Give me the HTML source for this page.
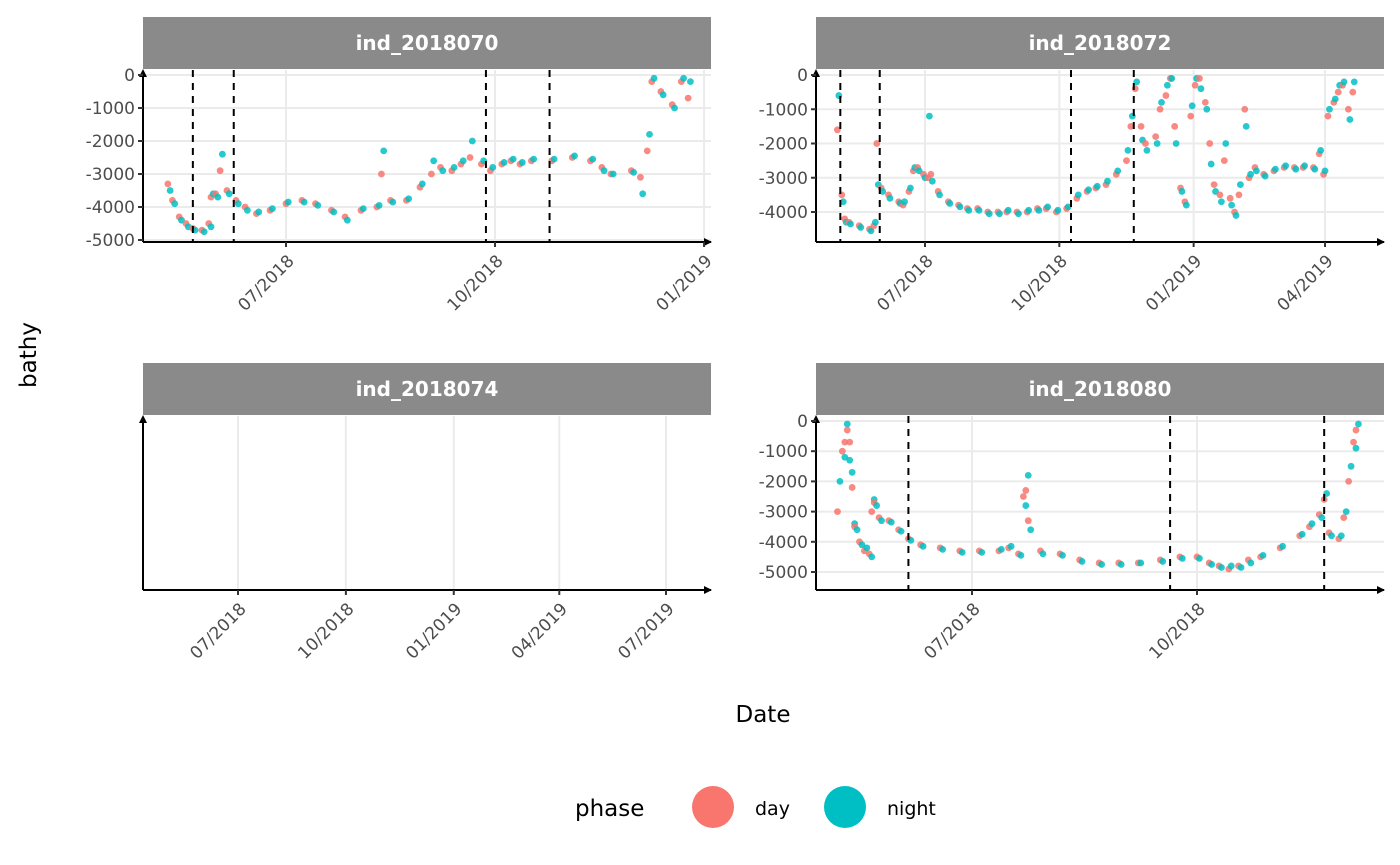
<!DOCTYPE html>
<html><head><meta charset="utf-8"><style>
body{margin:0;background:#fff}
svg{display:block;font-family:"DejaVu Sans","Liberation Sans",sans-serif}
</style></head><body>
<svg id="chart" width="1400" height="865" viewBox="0 0 1400 865">
<g id="panels"></g>
<text x="36" y="355" transform="rotate(-90 36 355)" text-anchor="middle" font-size="23" fill="#000">bathy</text>
<text x="763" y="722" text-anchor="middle" font-size="23" fill="#000">Date</text>
<g>
<text x="575" y="816" font-size="23" fill="#000">phase</text>
<circle cx="713" cy="807" r="21" fill="#F8766D"></circle>
<text x="755" y="815" font-size="19" fill="#000">day</text>
<circle cx="845" cy="807" r="21" fill="#00BFC4"></circle>
<text x="887" y="815" font-size="19" fill="#000">night</text>
</g>
</svg>
<script>
// ---- data (days offset from panel start date, bathy values) ----
const p1Days = [0,2,5,8,11,15,18,19,21,23,26,30,34,39,45,52,59,65,72,78,85,92,94,98,105,111,116,120,125,129,133,138,142,147,151,155,160,169,178,186,191,195,204,208,211,213,217,222,226,229];
const p1DayVals = [-3300,-3800,-4300,-4500,-4650,-4700,-4500,-3700,-3600,-2900,-3500,-3800,-4000,-4200,-4100,-3900,-3800,-3900,-4100,-4300,-4100,-4000,-3000,-3800,-3800,-3400,-3000,-2800,-2900,-2700,-2500,-2700,-2900,-2700,-2600,-2700,-2600,-2600,-2500,-2600,-2800,-3000,-2900,-3100,-2300,-200,-500,-900,-200,-700];
const p1NightVals = [-3500,-3900,-4400,-4600,-4700,-4750,-4600,-3600,-3700,-2400,-3600,-3900,-4100,-4150,-4050,-3850,-3850,-3950,-4150,-4400,-4050,-3950,-2300,-3850,-3750,-3300,-2600,-2900,-2800,-2600,-2000,-2600,-2800,-2650,-2550,-2650,-2550,-2550,-2450,-2550,-2900,-3000,-2950,-3600,-1800,-100,-600,-1000,-100,-200];

const p2Days = [0,3,5,8,15,22,25,27,30,35,42,45,49,52,55,59,62,64,69,76,83,89,96,103,110,116,123,130,137,143,150,157,164,171,177,184,191,198,201,204,208,211,218,221,225,228,231,235,238,242,245,248,252,255,258,262,265,269,272,275,279,282,286,292,299,306,313,319,326,330,333,336,340,343,346,350,353];
const p2DayVals = [-1600,-3500,-4200,-4300,-4400,-4500,-4400,-2000,-3300,-3500,-3700,-3800,-3400,-2800,-2700,-2900,-3000,-2900,-3400,-3700,-3800,-3900,-3900,-4000,-4000,-4000,-4000,-4000,-3900,-3900,-4000,-3900,-3600,-3400,-3300,-3200,-2900,-2500,-1500,-400,-1500,-2000,-1800,-1000,-600,-100,-1500,-3300,-3700,-1200,-300,-100,-800,-2000,-3200,-3500,-2500,-3600,-4000,-3500,-1000,-3000,-2700,-2900,-2800,-2700,-2700,-2700,-2700,-2300,-2900,-1200,-800,-500,-300,-1000,-500];
const p2NightVals = [-600,-3700,-4300,-4350,-4450,-4550,-4300,-3200,-3400,-3600,-3750,-3700,-3300,-2700,-2800,-3000,-1200,-3100,-3500,-3750,-3850,-3950,-3950,-4050,-4050,-3950,-4050,-3950,-3950,-3850,-3950,-3850,-3500,-3350,-3250,-3100,-2800,-2200,-1200,-200,-1900,-2200,-2000,-800,-300,-100,-2000,-3400,-3800,-900,-100,-400,-1000,-2600,-3400,-3700,-2000,-3800,-4100,-3200,-1500,-2900,-2800,-2950,-2750,-2650,-2750,-2650,-2750,-2200,-2800,-1000,-700,-300,-200,-1300,-200];

const p4Days = [0,2,3,4,5,6,7,9,11,13,14,15,17,21,25,29,34,42,50,58,66,70,74,76,77,78,83,91,99,107,115,123,132,140,147,152,156,160,164,168,173,181,189,193,197,199,201,205,207,209,211,212];
const p4DayVals = [-3000,-1000,-700,-300,-700,-2200,-3500,-4000,-4300,-4400,-3000,-2700,-3200,-3300,-3600,-3900,-4100,-4200,-4300,-4300,-4300,-4200,-4400,-2500,-2300,-3300,-4300,-4400,-4600,-4700,-4700,-4700,-4600,-4500,-4500,-4700,-4800,-4900,-4800,-4600,-4500,-4200,-3800,-3500,-3100,-2600,-3700,-3900,-3200,-2000,-700,-300];
const p4NightVals = [-2000,-1200,-100,-1300,-1700,-3400,-3600,-4100,-4200,-4500,-2600,-2800,-3300,-3350,-3650,-3950,-4150,-4250,-4350,-4350,-4250,-4150,-4450,-2800,-1800,-3600,-4400,-4450,-4650,-4750,-4750,-4700,-4650,-4550,-4550,-4750,-4850,-4800,-4850,-4700,-4450,-4150,-3750,-3400,-3200,-2400,-3800,-3800,-3000,-1500,-900,-100];

const p1VLines = [11,29,140,168];
const p2VLines = [2,29,160,203];
const p4VLines = [29,136,199];

const p1XTicks = ["2018-07-01","2018-10-01","2019-01-01"];
const p1XLabels = ["07/2018","10/2018","01/2019"];
const p2XTicks = ["2018-07-01","2018-10-01","2019-01-01","2019-04-01"];
const p2XLabels = ["07/2018","10/2018","01/2019","04/2019"];
const p3XTicks = ["2018-07-01","2018-10-01","2019-01-01","2019-04-01","2019-07-01"];
const p3XLabels = ["07/2018","10/2018","01/2019","04/2019","07/2019"];
const p4XTicks = ["2018-07-01","2018-10-01"];
const p4XLabels = ["07/2018","10/2018"];
const p1YTicks = [0,-1000,-2000,-3000,-4000,-5000];
const p2YTicks = [0,-1000,-2000,-3000,-4000];
const p4YTicks = [0,-1000,-2000,-3000,-4000,-5000];

// ---- layout ----
const NS = "http://www.w3.org/2000/svg";
const DAY = 86400000;
function mk(tag, attrs, parent){const e=document.createElementNS(NS,tag);for(const k in attrs)e.setAttribute(k,attrs[k]);parent.appendChild(e);return e;}
function parseD(s){const p=s.split("-");return Date.UTC(+p[0],+p[1]-1,+p[2]);}

const panels = [
 {title:"ind_2018070", left:143,right:711,top:17,strip:52,axisTop:70,axisBottom:242,
  start:"2018-05-10", refDate:"2018-07-01", refX:286, ppd:2.272, y0:75, yPer1000:33,
  days:p1Days, dayV:p1DayVals, nightV:p1NightVals, vlines:p1VLines, xt:p1XTicks, xl:p1XLabels, yt:p1YTicks},
 {title:"ind_2018072", left:816,right:1384,top:17,strip:52,axisTop:70,axisBottom:242,
  start:"2018-05-02", refDate:"2018-07-01", refX:925, ppd:1.46, y0:75, yPer1000:34.25,
  days:p2Days, dayV:p2DayVals, nightV:p2NightVals, vlines:p2VLines, xt:p2XTicks, xl:p2XLabels, yt:p2YTicks},
 {title:"ind_2018074", left:143,right:711,top:363,strip:52,axisTop:416,axisBottom:590,
  start:"2018-05-01", refDate:"2018-07-01", refX:238, ppd:1.1726, y0:null, yPer1000:30,
  days:[], dayV:[], nightV:[], vlines:[], xt:p3XTicks, xl:p3XLabels, yt:[]},
 {title:"ind_2018080", left:816,right:1384,top:363,strip:52,axisTop:416,axisBottom:590,
  start:"2018-05-07", refDate:"2018-07-01", refX:972, ppd:2.4457, y0:421, yPer1000:30.2,
  days:p4Days, dayV:p4DayVals, nightV:p4NightVals, vlines:p4VLines, xt:p4XTicks, xl:p4XLabels, yt:p4YTicks}
];

const root = document.getElementById("panels");
panels.forEach((p,pi)=>{
  const g = mk("g",{},root);
  
  
  const startMs = parseD(p.start), refMs = parseD(p.refDate);
  const xS = d => p.refX + (d - refMs)/DAY * p.ppd;
  const xOff = off => xS(startMs + off*DAY);
  const yS = v => p.y0 - v/1000*p.yPer1000;
  p.xt.forEach(t=>{
    const l = mk("line",{x1:xS(parseD(t)),x2:xS(parseD(t)),y1:p.axisTop,y2:p.axisBottom,stroke:"#ebebeb","stroke-width":2},g);
    
    
  });
  p.yt.forEach(t=>{
    const l = mk("line",{x1:p.left,x2:p.right,y1:yS(t),y2:yS(t),stroke:"#ebebeb","stroke-width":2},g);
    
    
  });
  const s = mk("rect",{x:p.left,y:p.top,width:p.right-p.left,height:p.strip,fill:"#8a8a8a"},g);
  
  
  const st = mk("text",{x:(p.left+p.right)/2,y:p.top+p.strip/2+7,"text-anchor":"middle","font-size":20,"font-weight":"bold",fill:"#fff"},g);
  st.textContent = p.title;
  
  
  p.days.forEach((d,i)=>{
    const c1 = mk("circle",{cx:xOff(d),cy:yS(p.dayV[i]),r:3.4,fill:"#F8766D","fill-opacity":0.85},g);
    
    
    const c2 = mk("circle",{cx:xOff(d+1),cy:yS(p.nightV[i]),r:3.4,fill:"#00BFC4","fill-opacity":0.85},g);
    
    
  });
  p.vlines.forEach(v=>{
    const l = mk("line",{x1:xOff(v),x2:xOff(v),y1:p.axisTop,y2:p.axisBottom,stroke:"#000","stroke-width":2,"stroke-dasharray":"7,6"},g);
    
    
  });
  const ax = mk("path",{d:`M${p.left} ${p.axisBottom}V${p.axisTop+2}M${p.left} ${p.axisBottom}H${p.right}`,stroke:"#000","stroke-width":2,fill:"none"},g);
  
  
  const ar1 = mk("path",{d:`M${p.left-4} ${p.axisTop+7}L${p.left} ${p.axisTop-1}L${p.left+4} ${p.axisTop+7}Z`,fill:"#000"},g);
  
  
  const ar2 = mk("path",{d:`M${p.right-7} ${p.axisBottom-4}L${p.right+1} ${p.axisBottom}L${p.right-7} ${p.axisBottom+4}Z`,fill:"#000"},g);
  
  
  p.yt.forEach(t=>{
    const y = yS(t);
    const tk = mk("line",{x1:p.left-5,x2:p.left,y1:y,y2:y,stroke:"#333","stroke-width":2},g);
    
    
    const tx = mk("text",{x:p.left-8,y:y+6,"text-anchor":"end","font-size":17,fill:"#4d4d4d"},g);
    tx.textContent = t;
    
    
  });
  p.xt.forEach((t,i)=>{
    const x = xS(parseD(t));
    const tk = mk("line",{x1:x,x2:x,y1:p.axisBottom,y2:p.axisBottom+5,stroke:"#333","stroke-width":2},g);
    
    
    const lx = x+9, ly = p.axisBottom+20;
    const tx = mk("text",{x:lx,y:ly,"text-anchor":"end","font-size":17,fill:"#4d4d4d",transform:`rotate(-45 ${lx} ${ly})`},g);
    tx.textContent = p.xl[i];
    
    
  });
});
</script>
</body></html>
